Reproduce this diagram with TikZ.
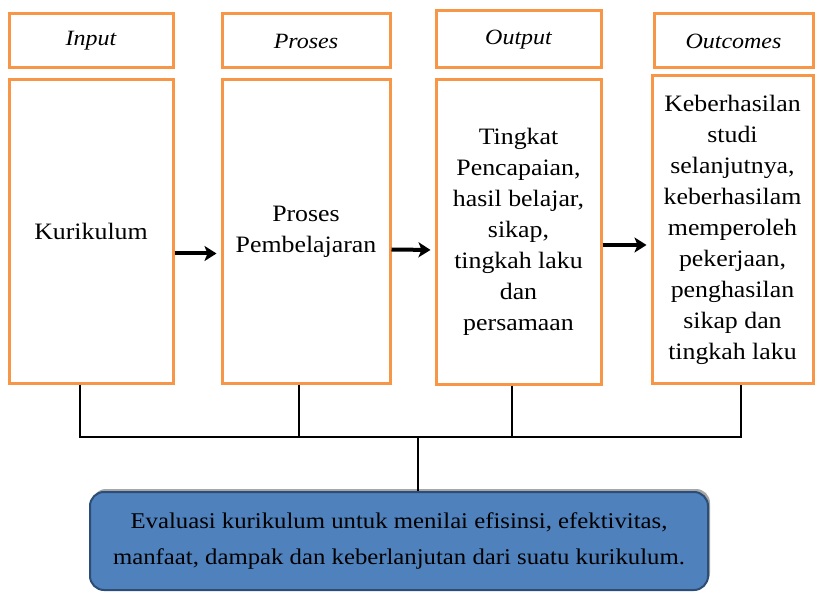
\documentclass[tikz,border=0pt]{standalone}
\usepackage{fontspec}
\setmainfont[FakeStretch=1.1]{Liberation Serif}
\usetikzlibrary{arrows.meta,shadows}
\definecolor{boxorange}{HTML}{F79646}
\definecolor{evalblue}{HTML}{4F81BD}
\definecolor{evalborder}{HTML}{2C4D75}
\begin{document}
\begin{tikzpicture}[x=1pt,y=-1pt,
  hdr/.style={draw=boxorange,line width=3pt,inner sep=0pt,font=\fontsize{21.8}{28}\selectfont\itshape},
  mainbox/.style={draw=boxorange,line width=3pt,inner sep=0pt,align=center,font=\fontsize{23.5}{31}\selectfont},
  flowarrow/.style={line width=4pt,shorten >=4pt,-{Stealth[length=12pt,width=15pt,inset=3pt]}},
  bus/.style={line width=2pt}]
\useasboundingbox (0,0) rectangle (816,593);
% headers
\node[hdr,minimum width=164pt,minimum height=54pt] (inhdr) at (91,41) {Input};
\node[hdr,minimum width=168pt,minimum height=54pt] (prhdr) at (306,41) {Proses};
\node[hdr,minimum width=165pt,minimum height=57pt] (outhdr) at (518.5,39.5) {Output};
\node[hdr,minimum width=159pt,minimum height=54pt] (ochdr) at (733.5,41) {Outcomes};
% main boxes
\node[mainbox,minimum width=164pt,minimum height=303pt] (inbox) at (91,231.5) {Kurikulum};
\node[mainbox,minimum width=168pt,minimum height=303pt] (prbox) at (306,231.5) {Proses\\Pembelajaran};
\node[mainbox,minimum width=165pt,minimum height=304pt] (outbox) at (518.5,232) {Tingkat\\Pencapaian,\\hasil belajar,\\sikap,\\tingkah laku\\dan\\persamaan};
\node[mainbox,minimum width=161pt,minimum height=307pt] (ocbox) at (732.5,229.5) {Keberhasilan\\studi\\selanjutnya,\\keberhasilam\\memperoleh\\pekerjaan,\\penghasilan\\sikap dan\\tingkah laku};
% evaluation box
\node[draw=evalborder,fill=evalblue,line width=2pt,rounded corners=14pt,
  drop shadow={shadow xshift=2pt,shadow yshift=3pt,fill=black!35,opacity=1},
  minimum width=618pt,minimum height=98pt,align=center,
  font=\fontsize{22.5}{36}\selectfont] (evbox) at (399,541)
  {Evaluasi kurikulum untuk menilai efisinsi, efektivitas,\\manfaat, dampak dan keberlanjutan dari suatu kurikulum.};
% arrows
\draw[flowarrow] ([yshift=-22pt]inbox.east) -- ([yshift=-22pt]prbox.west);
\draw[flowarrow] ([yshift=-18pt]prbox.east) -- ([yshift=-18pt]outbox.west);
\draw[flowarrow] ([yshift=-13pt]outbox.east) -- ([yshift=-15.5pt]ocbox.west);
% bus
\coordinate (busL) at (80,437);
\coordinate (busR) at (741,437);
\draw[bus] ([xshift=-11pt]inbox.south) -- (busL) -- (busR) -- ([xshift=8.5pt]ocbox.south);
\draw[bus] ([xshift=-7pt]prbox.south) -- ([xshift=-7pt]prbox.south |- busL);
\draw[bus] ([xshift=-6.5pt]outbox.south) -- ([xshift=-6.5pt]outbox.south |- busL);
\draw[bus] ([xshift=19pt]evbox.north) -- ([xshift=19pt]evbox.north |- busL);
\end{tikzpicture}
\end{document}
